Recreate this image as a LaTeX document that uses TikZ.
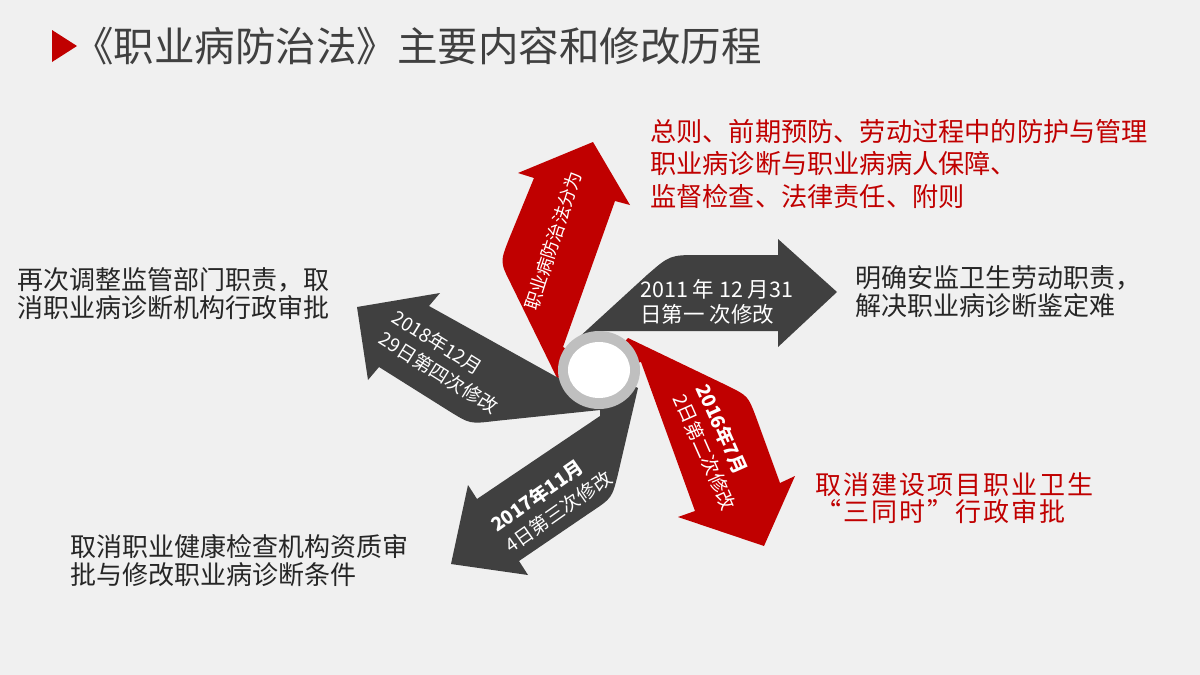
\documentclass[tikz,border=0pt]{standalone}
\usepackage{fontspec}
\setmainfont{Noto Sans CJK SC}
\newfontfamily\widecjk[LetterSpace=8]{Noto Sans CJK SC}
\usepackage{xcolor}
\usepackage{tikz}
\usetikzlibrary{positioning,calc}
\definecolor{lawred}{RGB}{192,0,0}
\definecolor{arrgray}{RGB}{64,64,64}
\definecolor{ringgray}{RGB}{191,191,191}
\definecolor{pagegray}{RGB}{240,240,240}

\begin{document}
\begin{tikzpicture}[x=1pt,y=-1pt,
  redarr/.style={fill=lawred},
  grayarr/.style={fill=arrgray},
  intext/.style={text=white,inner sep=0pt,align=left,font=\fontsize{19}{25}\selectfont},
  redtext/.style={text=lawred,inner sep=0pt,anchor=west,align=left},
  blktext/.style={text=black!85,inner sep=0pt,anchor=west,align=left,font=\fontsize{26}{28}\selectfont}]
  \fill[pagegray] (0,0) rectangle (1200,675);
  \useasboundingbox (0,0) rectangle (1200,675);
  \fill[lawred] (52,30) -- (52,62) -- (77,46) -- cycle;
  \node[anchor=west,inner sep=0pt,text=arrgray,font=\fontsize{40.5}{44}\selectfont] (title) at (73,46) {《职业病防治法》主要内容和修改历程};
  \fill[redarr] (600,370) -- (557,378) -- (511,284) .. controls (500,262) .. (509,239) -- (534,178) -- (518,173) -- (593,142) -- (630,205) -- (615,201) -- (563,347) -- cycle;
  \fill[grayarr] (600,370) -- (576,340) -- (647,275) .. controls (670,255) .. (700,255) -- (778,255) -- (778,239) -- (837,292) -- (778,347) -- (778,331) -- (600,331) -- cycle;
  \fill[redarr] (600,370) -- (628,338) -- (728,386) .. controls (748,396) .. (756,417) -- (780,483) -- (795,476) -- (764,546) -- (678,517) -- (695,511) -- (641,362) -- cycle;
  \fill[grayarr] (600,370) -- (638,388) -- (618,474) .. controls (612,498) .. (591,512) -- (519,561) -- (528,575) -- (451,564) -- (468,485) -- (477,499) -- (600,416) -- cycle;
  \fill[grayarr] (600,370) -- (562,380) -- (429,306) -- (440,293) -- (357,307) -- (368,380) -- (379,367) -- (449,411) .. controls (470,424) .. (495,421) -- (600,410) -- cycle;
  \fill[ringgray] (599,370) ellipse [x radius=41pt,y radius=39pt];
  \fill[white] (599,370) ellipse [x radius=31pt,y radius=28pt];
  \node[intext,rotate=72,font=\fontsize{18}{22}\selectfont] (t1) at (553,241) {职业病防治法分为};
  \node[intext,anchor=west,font=\fontsize{21.5}{25}\selectfont] (t2) at (640,302) {2011 年 12 月31\\日第一 次修改};
  \node[intext,anchor=west,rotate=-66] (t3) at (691,390) {\textbf{2016年7月}\\2日第二次修改};
  \node[intext,anchor=west,rotate=35] (t4) at (500,537) {\textbf{2017年11月}\\4日第三次修改};
  \node[intext,anchor=west,rotate=-32] (t5) at (388,326) {2018年12月\\29日第四次修改};
  \node[redtext,font=\fontsize{26.2}{33}\selectfont] (parts) at (650,164) {总则、前期预防、劳动过程中的防护与管理\\职业病诊断与职业病病人保障、\\监督检查、法律责任、附则};
  \node[blktext] (first) at (855,292) {明确安监卫生劳动职责，\\解决职业病诊断鉴定难};
  \node[redtext,font=\widecjk\fontsize{26}{27}\selectfont] (second) at (815,498) {取消建设项目职业卫生\\“三同时”行政审批};
  \node[blktext] (third) at (70,561) {取消职业健康检查机构资质审\\批与修改职业病诊断条件};
  \node[blktext] (fourth) at (17,294) {再次调整监管部门职责，取\\消职业病诊断机构行政审批};
\end{tikzpicture}
\end{document}
